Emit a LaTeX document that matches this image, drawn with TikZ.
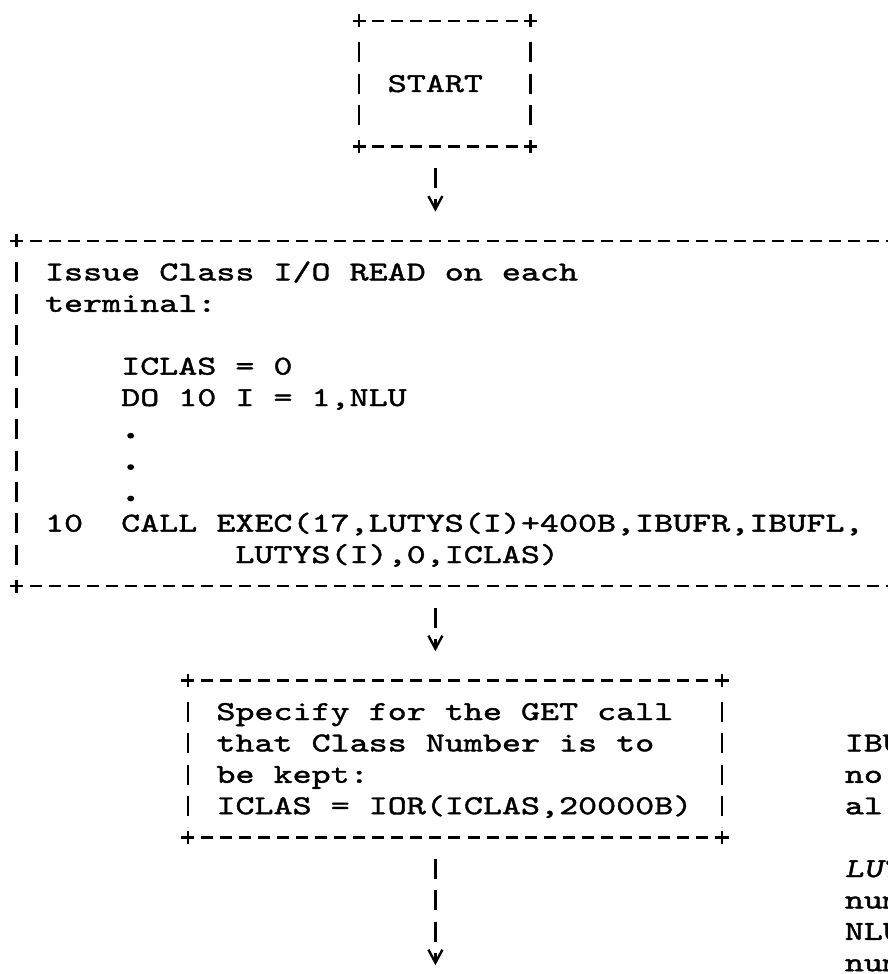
\documentclass[tikz,border=0pt]{standalone}
\usepackage{fontspec}
\usetikzlibrary{arrows.meta}
\newfontfamily\tw{lmmono10-regular.otf}[FakeStretch=1.328,FakeBold=1.5]
\newfontfamily\twsl{lmmono10-regular.otf}[FakeStretch=1.328,FakeBold=1.5,FakeSlant=0.2]
\newfontfamily\twdot{lmmono10-regular.otf}[FakeStretch=1.328,FakeBold=8]
\newcommand\rs{\spaceskip=19.04pt\relax\rule[-7.5pt]{0pt}{31.4pt}}
\newcommand\pad[1]{\phantom{#1}}
\newcommand\dotc{{\twdot .}}
\lineskiplimit=-50pt

\begin{document}
\begin{tikzpicture}[x=1pt, y=-1pt, line width=2.4pt]
  \tikzstyle{frame}=[anchor=north west, inner xsep=28.56pt, inner ysep=15.7pt, outer sep=0pt, align=left,
    font={\tw\fontsize{27.3pt}{31.4pt}\selectfont}]
  \tikzstyle{note}=[frame, inner sep=0pt]
  \tikzstyle{hdash}=[dash pattern=on 12pt off 7.04pt, dash phase=6pt]
  \tikzstyle{vdash}=[dash pattern=on 20pt off 11.4pt, dash phase=20pt, shorten <=10pt, shorten >=10pt]
  \tikzstyle{plus}=[solid]
  \tikzstyle{flow}=[vdash, shorten >=23.2pt, -{Straight Barb[length=13pt, width=14pt, sep=6pt]}]
  \useasboundingbox (0,0) rectangle (888,974);
  \clip (0,0) rectangle (888,974);

  \node[frame, text width=114.24pt, minimum height=125.6pt] (start) at (359.2,21) {\rs START};
  \node[frame, text width=837.8pt] (read) at (16.5,240.8) {\rs Issue Class I/O READ on each\\
    terminal:\\
    \mbox{}\\
    \pad{xxxx}ICLAS = 0\\
    \pad{xxxx}DO 10 I = 1,NLU\\
    \pad{xxxx}\dotc\\
    \pad{xxxx}\dotc\\
    \pad{xxxx}\dotc\\
    10\pad{xx}CALL EXEC(17,LUTYS(I)+400B,IBUFR,IBUFL,\\
    \pad{xxxxxxxxxx}LUTYS(I),0,ICLAS)\rs};
  \node[frame, text width=477pt] (spec) at (187.9,680.4) {\rs Specify for the GET call\\
    that Class Number is to\\
    be kept:\\
    ICLAS = IOR(ICLAS,20000B)\rs};
  \node[note] (notes) at (844.8,727.5) {\rs IBU\\ no\\ al\\ \mbox{}\\ {\twsl LUT}\\ num\\ NLU\\ num\rs};

  \foreach \n in {start,read,spec} {
    \draw[hdash] (\n.north west) -- (\n.north east);
    \draw[hdash] (\n.south west) -- (\n.south east);
    \draw[vdash] (\n.north west) -- (\n.south west);
    \draw[vdash] (\n.north east) -- (\n.south east);
    \foreach \k in {north west,north east,south west,south east}
      \draw[plus] (\n.\k) +(-6.5,0) -- +(6.5,0) +(0,-6.5) -- +(0,6.5);
  }

  \coordinate (ax) at (435.4,0);
  \coordinate (out) at (435.4,994.4);
  \draw[flow] (start.south -| ax) -- (read.north -| ax);
  \draw[flow] (read.south -| ax) -- (spec.north -| ax);
  \draw[flow] (spec.south -| ax) -- (out);
\end{tikzpicture}
\end{document}
